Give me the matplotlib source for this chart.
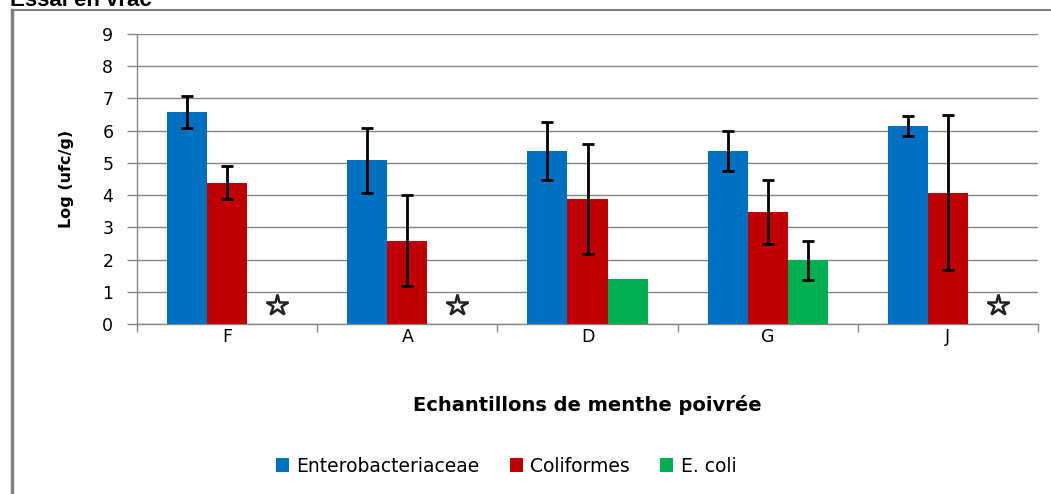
import matplotlib
matplotlib.use("Agg")
import matplotlib.pyplot as plt
from matplotlib.lines import Line2D
import numpy as np

categories = ["F", "A", "D", "G", "J"]
series_names = ["Enterobacteriaceae", "Coliformes", "E. coli"]
entero = [6.58, 5.08, 5.36, 5.38, 6.15]
entero_err = [0.5, 1.0, 0.9, 0.62, 0.3]
coli = [4.39, 2.59, 3.88, 3.47, 4.08]
coli_err = [0.5, 1.4, 1.7, 1.0, 2.4]
ecoli = [np.nan, np.nan, 1.4, 1.98, np.nan]
ecoli_err = [0, 0, 0, 0.6, 0]
# star markers (no E. coli detected) at these categories
star_cats = ["F", "A", "J"]
star_level = 0.6
y_ticks = list(range(0, 10))
colors = ["#0070C0", "#C00000", "#00B050"]

plt.rcParams['font.family'] = ['DejaVu Sans']

fig = plt.figure(figsize=(10.51, 4.94), dpi=100)
ax = fig.add_axes([137/1051, 1-324/494, (1038-137)/1051, (324-34)/494])

x = np.arange(len(categories))
bw = 1/4.5
grid_c = "#868686"

vals = [entero, coli, ecoli]
errs = [entero_err, coli_err, ecoli_err]
for i, (v, e, c, n) in enumerate(zip(vals, errs, colors, series_names)):
    pos = x + (i-1)*bw
    ax.bar(pos, v, width=bw, color=c, label=n, zorder=3)
    v_arr = np.array(v, dtype=float)
    e_arr = np.array(e, dtype=float)
    mask = ~np.isnan(v_arr) & (e_arr > 0)
    ax.errorbar(pos[mask], v_arr[mask], yerr=e_arr[mask], fmt='none',
                ecolor='black', elinewidth=2, capsize=4, capthick=2, zorder=4)

star_x = [categories.index(s) + bw*1.25 for s in star_cats]
ax.plot(star_x, [star_level]*len(star_x), linestyle='none', marker='*',
        markersize=16, markerfacecolor='white', markeredgecolor='#222222',
        markeredgewidth=1.8, zorder=5, clip_on=False)

ax.set_xlim(-0.5, len(categories)-0.5)
ax.set_ylim(0, 9)
ax.set_yticks(y_ticks)
ax.set_xticks(x)
ax.set_xticklabels(categories)
ax.set_xticks(np.arange(-0.5, len(categories), 1), minor=True)
ax.tick_params(axis='x', which='major', length=0, pad=3, labelsize=12.5)
ax.tick_params(axis='x', which='minor', length=6, width=1, color=grid_c, direction='out')
ax.tick_params(axis='y', which='major', length=7, width=1, color=grid_c, pad=14, labelsize=12.5)
for lab in ax.get_yticklabels():
    lab.set_horizontalalignment('center')
ax.yaxis.grid(True, color=grid_c, linewidth=1, zorder=0)
ax.set_axisbelow(True)
for s in ['top', 'right']:
    ax.spines[s].set_visible(False)
for s in ['left', 'bottom']:
    ax.spines[s].set_color(grid_c)
    ax.spines[s].set_linewidth(1)

ax.set_xlabel("Echantillons de menthe poivrée", fontsize=14, fontweight='bold', labelpad=35)
ax.set_ylabel("Log (ufc/g)", fontsize=11.5, fontweight='bold', labelpad=20)

leg = fig.legend(loc='center', bbox_to_anchor=(506/1051, 1-466/494), ncol=3,
                 frameon=False, fontsize=13.5, handlelength=0.7, handleheight=0.7,
                 handletextpad=0.4, columnspacing=1.6)

# chart area border (partial) and cut-off title
fig.add_artist(Line2D([12/1051, 12/1051], [0, 1-10/494], color="#7f7f7f", linewidth=2.5,
                      transform=fig.transFigure))
fig.add_artist(Line2D([12/1051, 1], [1-10/494, 1-10/494], color="#7f7f7f", linewidth=1.5,
                      transform=fig.transFigure))
fig.text(10/1051, 1-6/494, "Essai en vrac", fontsize=16, fontweight='bold',
         family=['Liberation Sans', 'DejaVu Sans'], va='baseline', ha='left')

fig.savefig("out.png", dpi=100)
